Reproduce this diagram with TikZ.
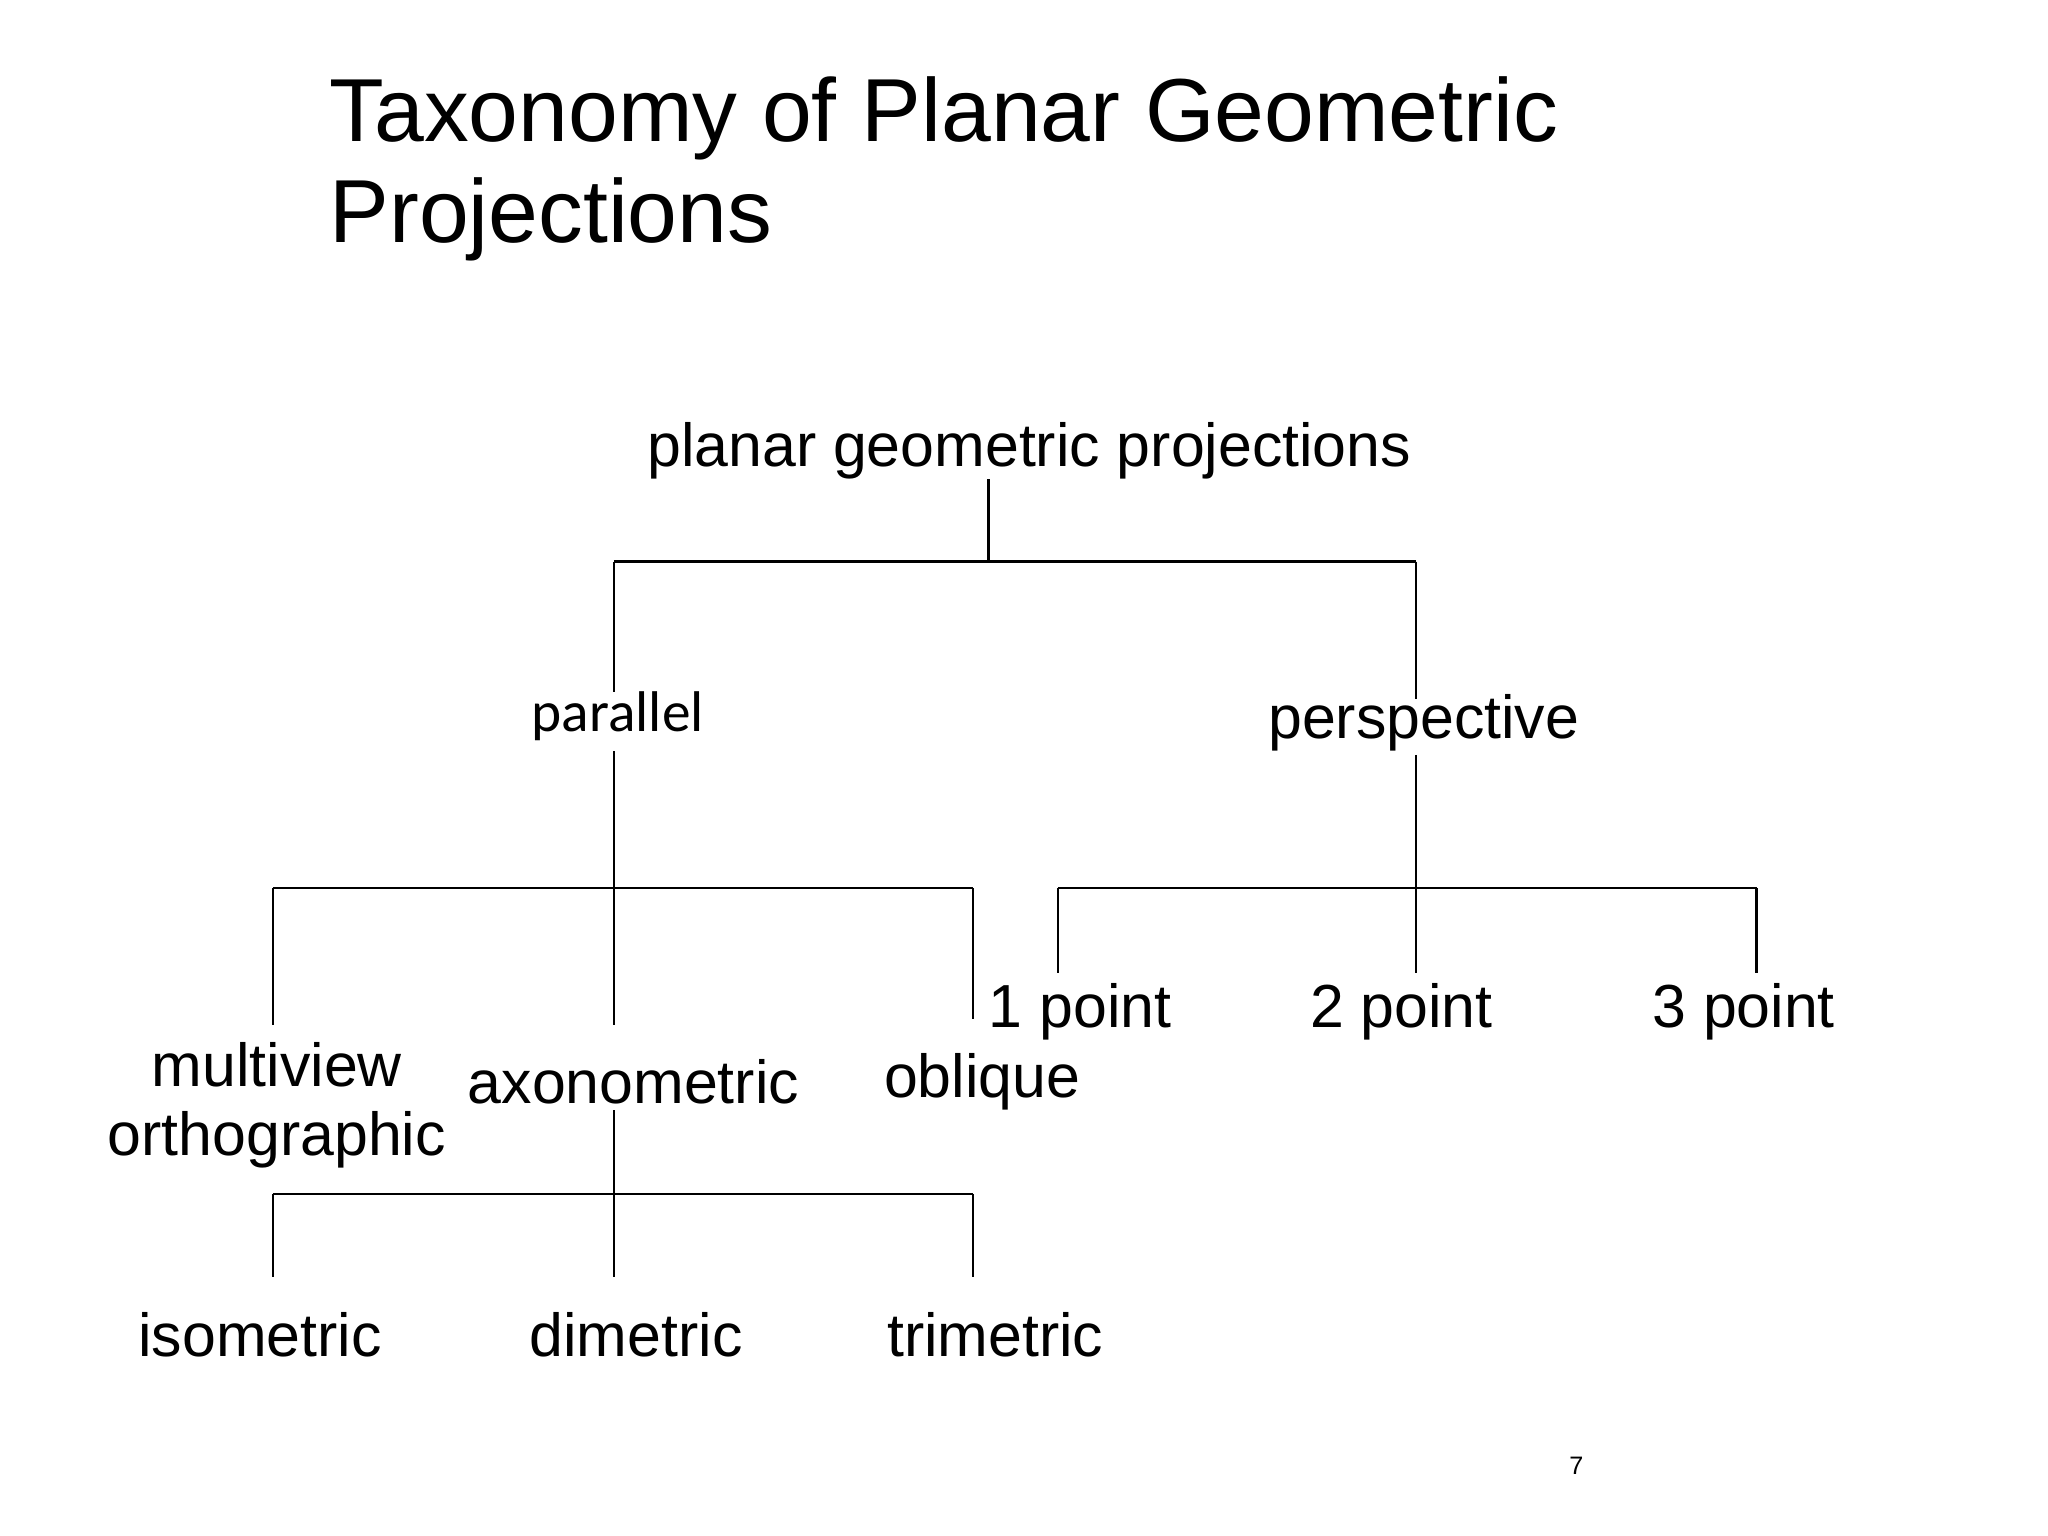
\documentclass[tikz,border=0pt]{standalone}
\usepackage{fontspec}
\setmainfont{Liberation Sans}
\newfontfamily\calib{Carlito}
\begin{document}
\begin{tikzpicture}[x=0.02cm,y=-0.02cm,
  lbl/.style={inner sep=0pt,font=\fontsize{26.5}{30}\selectfont},
  ln/.style={line width=1.1pt}]
\useasboundingbox[fill=white] (0,0) rectangle (1568,1176);
\node[anchor=north west,inner sep=0pt,align=left,font=\fontsize{39}{44}\selectfont] (title) at (252,58) {Taxonomy of Planar Geometric\\Projections};
\node[lbl] (root) at (788,345) {planar geometric projections};
\node[inner sep=0pt,font=\calib\fontsize{25}{30}\selectfont] (par) at (473,548) {parallel};
\node[lbl] (persp) at (1090,553) {perspective};
\node[lbl] (p1) at (827,775) {1 point};
\node[lbl] (p2) at (1073,775) {2 point};
\node[lbl] (p3) at (1335,775) {3 point};
\node[lbl,align=center] (multi) at (212,846) {multiview\\orthographic};
\node[lbl] (axo) at (485,828) {axonometric};
\node[lbl] (obl) at (752,828) {oblique};
\node[lbl] (iso) at (199,1022) {isometric};
\node[lbl] (dim) at (487,1022) {dimetric};
\node[lbl] (tri) at (762,1022) {trimetric};
\node[inner sep=0pt,font=\fontsize{11}{13}\selectfont] (pg) at (1207,1122) {7};
\coordinate (j0) at (757,430);
\coordinate (jl) at (470,430);
\coordinate (jr) at (1084,430);
\coordinate (j1) at (470,680);
\coordinate (j1l) at (209,680);
\coordinate (j1r) at (745,680);
\coordinate (j2) at (1084,680);
\coordinate (j2l) at (810,680);
\coordinate (j2r) at (1345,680);
\coordinate (j3) at (470,914);
\coordinate (j3l) at (209,914);
\coordinate (j3r) at (745,914);
\draw[ln] (757,367) -- (j0);
\draw[ln] (jl) -- (jr);
\draw[ln] (jl) -- (470,530);
\draw[ln] (jr) -- (1084,535);
\draw[ln] (470,575) -- (j1);
\draw[ln] (1084,578) -- (j2);
\draw[ln] (j1l) -- (j1r);
\draw[ln] (j2l) -- (j2r);
\draw[ln] (j1l) -- (209,785);
\draw[ln] (j1) -- (470,785);
\draw[ln] (j1r) -- (745,780);
\draw[ln] (j2l) -- (810,745);
\draw[ln] (j2) -- (1084,745);
\draw[ln] (j2r) -- (1345,745);
\draw[ln] (470,850) -- (j3);
\draw[ln] (j3l) -- (j3r);
\draw[ln] (j3l) -- (209,978);
\draw[ln] (j3) -- (470,978);
\draw[ln] (j3r) -- (745,978);
\end{tikzpicture}
\end{document}
